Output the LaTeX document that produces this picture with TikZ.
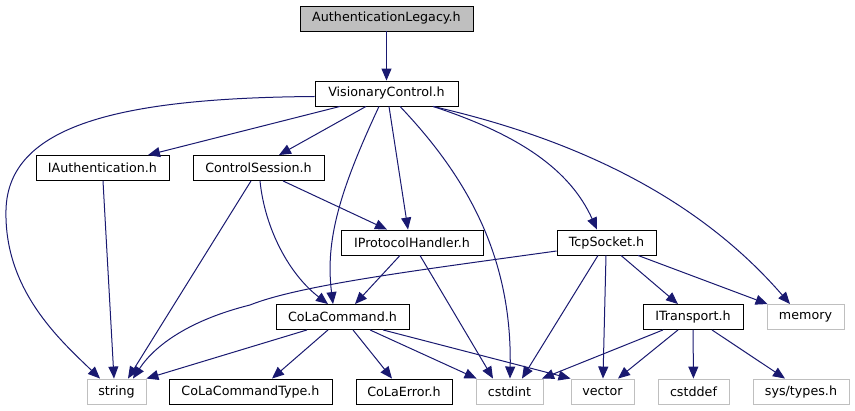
\documentclass[tikz,border=0pt]{standalone}
\usepackage{fontspec}
\setmainfont{DejaVu Sans}
\usetikzlibrary{calc}
\usetikzlibrary{arrows.meta}
\definecolor{edge-blue}{RGB}{25, 25, 112}
\definecolor{ext-gray}{RGB}{191, 191, 191}
\definecolor{top-gray}{RGB}{191, 191, 191}

\begin{document}
\begin{tikzpicture}[x=1pt, y=-1pt,
    hfile/.style={draw=black, line width=0.9pt, minimum height=25pt, inner sep=0pt,
        font=\fontsize{12.7}{15}\selectfont},
    sysfile/.style={hfile, draw=ext-gray},
    dep/.style={draw=edge-blue, line width=1pt,
        -{Triangle[length=12pt, width=10pt]}, fill=none}]
\useasboundingbox (0,0) rectangle (855,411);
\node[hfile, fill=top-gray, minimum width=173pt] (legacy) at (386.5,18.5) {AuthenticationLegacy.h};
\node[hfile, minimum width=143pt] (vc) at (386.5,93.5) {VisionaryControl.h};
\node[hfile, minimum width=133pt] (iauth) at (102.5,168) {IAuthentication.h};
\node[hfile, minimum width=131pt] (csess) at (258.5,168) {ControlSession.h};
\node[hfile, minimum width=142pt] (iproto) at (412,242.5) {IProtocolHandler.h};
\node[hfile, minimum width=99pt] (tcp) at (606.5,242.5) {TcpSocket.h};
\node[hfile, minimum width=133pt] (cola) at (342.5,317) {CoLaCommand.h};
\node[hfile, minimum width=100pt] (itrans) at (693,317) {ITransport.h};
\node[sysfile, minimum width=77pt] (memory) at (805.5,317) {memory};
\node[sysfile, minimum width=59pt] (string) at (116.5,391.5) {string};
\node[hfile, minimum width=163pt] (colatype) at (250.5,391.5) {CoLaCommandType.h};
\node[hfile, minimum width=96pt] (colaerr) at (404,391.5) {CoLaError.h};
\node[sysfile, minimum width=67pt] (cstdint) at (509.5,391.5) {cstdint};
\node[sysfile, minimum width=63pt] (vector) at (602.5,391.5) {vector};
\node[sysfile, minimum width=71pt] (cstddef) at (693.5,391.5) {cstddef};
\node[sysfile, minimum width=96pt] (systypes) at (801,391.5) {sys/types.h};

\draw[dep] (legacy) -- (vc);
\draw[dep] ($(vc.west)+(0,3)$) .. controls (120,98) and (8,125) .. (6,210)
    .. controls (4,290) and (60,340) .. ($(string.north)+(-16.5,0)$);
\draw[dep] ($(vc.south)+(-46.5,0)$) -- ($(iauth.north)+(45.5,0)$);
\draw[dep] ($(vc.south)+(-20.5,0)$) -- ($(csess.north)+(20.5,0)$);
\draw[dep] ($(vc.south)+(-7.5,0)$) .. controls (340,190) and (325,240) .. ($(cola.north)+(-9.5,0)$);
\draw[dep] ($(vc.south)+(2.5,0)$) -- ($(iproto.north)+(-4,0)$);
\draw[dep] ($(vc.south)+(13.5,0)$) .. controls (470,180) and (512,260) .. ($(cstdint.north)+(0.5,0)$);
\draw[dep] ($(vc.south)+(46.5,0)$) .. controls (520,135) and (570,170) .. ($(tcp.north)+(-9.5,0)$);
\draw[dep] ($(vc.south)+(46.5,0)$) .. controls (580,140) and (700,200) .. ($(memory.north)+(-15.5,0)$);

\draw[dep] ($(iauth.south)+(0.5,0)$) -- ($(string.north)+(-2.5,0)$);
\draw[dep] ($(csess.south)+(-7.5,0)$) -- ($(string.north)+(11.5,0)$);
\draw[dep] ($(csess.south)+(1.5,0)$) .. controls (265,230) and (290,275) .. ($(cola.north)+(-14.5,0)$);
\draw[dep] ($(csess.south)+(24.5,0)$) -- ($(iproto.north)+(-25,0)$);

\draw[dep] ($(iproto.south)+(-12,0)$) -- ($(cola.north)+(12.5,0)$);
\draw[dep] ($(iproto.south)+(8,0)$) -- ($(cstdint.north)+(-16.5,0)$);

\draw[dep] ($(tcp.west)+(0,8.5)$) .. controls (420,270) and (300,285) .. (250,305)
    .. controls (190,320) and (155,345) .. ($(string.north)+(16.5,0)$);
\draw[dep] ($(tcp.south)+(-8.5,0)$) -- ($(cstdint.north)+(12.5,0)$);
\draw[dep] ($(tcp.south)+(-0.5,0)$) -- ($(vector.north)+(0.5,0)$);
\draw[dep] ($(tcp.south)+(14.5,0)$) -- ($(itrans.north)+(-15,0)$);
\draw[dep] ($(tcp.south)+(31.5,0)$) -- ($(memory.north west)+(1,0)$);

\draw[dep] ($(cola.south)+(-35.5,0)$) -- (string.north east);
\draw[dep] ($(cola.south)+(-14.5,0)$) -- ($(colatype.north)+(21.5,0)$);
\draw[dep] ($(cola.south)+(10.5,0)$) -- ($(colaerr.north)+(-12,0)$);
\draw[dep] ($(cola.south)+(27.5,0)$) -- ($(cstdint.north west)+(1,0)$);
\draw[dep] ($(cola.south)+(40.5,0)$) -- (vector.north west);

\draw[dep] ($(itrans.south)+(-30,0)$) -- ($(cstdint.north)+(32.5,0)$);
\draw[dep] ($(itrans.south)+(-15,0)$) -- ($(vector.north)+(15.5,0)$);
\draw[dep] (itrans) -- (cstddef);
\draw[dep] ($(itrans.south)+(19,0)$) -- ($(systypes.north)+(-16,0)$);
\end{tikzpicture}
\end{document}
